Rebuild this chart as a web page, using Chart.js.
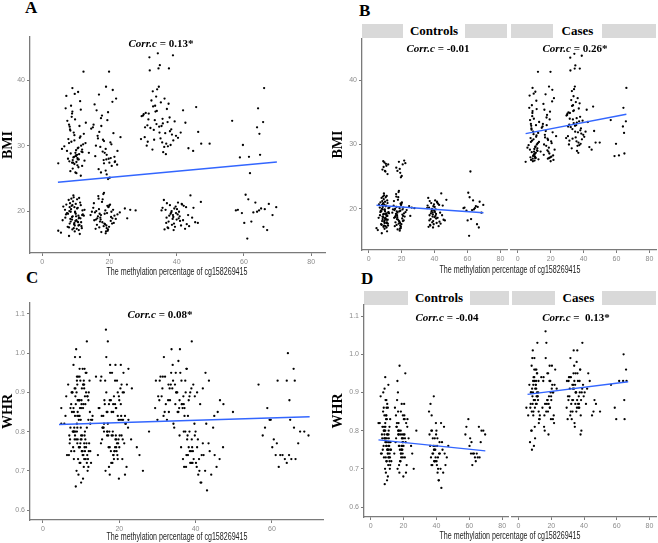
<!DOCTYPE html>
<html>
<head>
<meta charset="utf-8">
<script src="https://cdn.jsdelivr.net/npm/chart.js@4.4.1/dist/chart.umd.min.js"></script>
<style>
    body { margin: 0; width: 658px; height: 543px; background: #fff; position: relative; overflow: hidden; font-family: "Liberation Sans", Arial, sans-serif; }
    canvas { position: absolute; }
    .letra { position: absolute; font: bold 17px "Liberation Serif", serif; line-height: 17px; }
    .strip { position: absolute; height: 14px; background: #d9d9d9; }
    .strip span { position: absolute; top: 0; height: 14px; background: #fff; text-align: center; font: bold 13px "Liberation Serif", serif; line-height: 14px; }
    .corr { position: absolute; width: 140px; text-align: center; font: bold 11px "Liberation Serif", serif; line-height: 14px; white-space: nowrap; }
    .xtitle { position: absolute; width: 300px; text-align: center; font-size: 10px; line-height: 12px; color: #222; white-space: nowrap; transform: scaleX(0.71); }
</style>
</head>
<body>
<div class="letra" style="left:25px;top:-1px">A</div>
<div class="letra" style="left:359px;top:2px">B</div>
<div class="letra" style="left:26px;top:269px">C</div>
<div class="letra" style="left:361px;top:270px">D</div>

<div class="strip" style="left:362px;top:24px;width:145px"><span style="left:41px;width:62px">Controls</span></div>
<div class="strip" style="left:511px;top:24px;width:145px"><span style="left:42px;width:49px">Cases</span></div>
<div class="strip" style="left:364px;top:291px;width:145px"><span style="left:44px;width:62px">Controls</span></div>
<div class="strip" style="left:512px;top:291px;width:144px"><span style="left:43px;width:47px">Cases</span></div>

<canvas id="painelA" width="330" height="250" style="left:0;top:30px"></canvas>
<canvas id="painelBControles" width="180" height="250" style="left:330px;top:30px"></canvas>
<canvas id="painelBCasos" width="148" height="250" style="left:510px;top:30px"></canvas>
<canvas id="painelC" width="330" height="248" style="left:0;top:295px"></canvas>
<canvas id="painelDControles" width="180" height="248" style="left:330px;top:295px"></canvas>
<canvas id="painelDCasos" width="148" height="248" style="left:510px;top:295px"></canvas>

<div class="corr" style="left:91px;top:36px"><i>Corr.c</i> = 0.13*</div>
<div class="corr" style="left:368px;top:41px"><i>Corr.c</i> = -0.01</div>
<div class="corr" style="left:505px;top:41px"><i>Corr.c</i> = 0.26*</div>
<div class="corr" style="left:90px;top:307px"><i>Corr.c</i> = 0.08*</div>
<div class="corr" style="left:377px;top:310px"><i>Corr.c</i> = -0.04</div>
<div class="corr" style="left:506px;top:310px"><i>Corr.c</i> =&nbsp; 0.13*</div>

<div class="xtitle" style="left:27px;top:266px">The methylation percentage of cg158269415</div>
<div class="xtitle" style="left:360px;top:264px">The methylation percentage of cg158269415</div>
<div class="xtitle" style="left:27px;top:531px">The methylation percentage of cg158269415</div>
<div class="xtitle" style="left:360px;top:530px">The methylation percentage of cg158269415</div>

<script>
// Dados: um valor por indivíduo (metilação %, IMC, RCQ)
const controlsMeth = [
    9.1, 10.4, 8.2, 11.3, 9.8, 7.6, 10.9, 8.8, 12.1, 9.4,
    10.2, 8.5, 11.8, 9.6, 7.9, 10.7, 8.9, 11.1, 6.8, 9.3,
    10.0, 8.4, 11.5, 9.0, 12.4, 7.2, 10.5, 9.7, 8.1, 11.0,
    9.5, 6.3, 10.8, 8.7, 11.9, 9.9, 7.4, 10.3, 8.6, 5.6,
    11.4, 9.2, 10.1, 8.0, 12.0, 9.6, 7.7, 10.6, 8.3, 11.7,
    9.0, 10.9, 6.9, 8.9, 11.2, 9.8, 4.8, 10.4, 8.5, 12.6,
    9.4, 7.1, 11.6, 10.0, 8.2, 9.7, 10.8, 6.1, 11.0, 8.0,
    8.4, 9.6, 10.8, 11.5, 9.1, 10.2, 8.9, 11.9, 9.9, 10.5,
    16.8, 18.4, 19.2, 20.7, 17.5, 21.6, 18.9, 20.1, 22.3, 19.6,
    17.2, 18.6, 15.9, 19.8, 16.4, 20.5, 17.8, 19.1, 14.8, 18.2,
    21.3, 16.9, 19.5, 17.5, 20.2, 15.5, 18.9, 16.1, 21.9, 17.0,
    19.3, 18.0, 20.8, 16.6, 15.2, 19.9, 17.4, 18.4, 22.4, 16.3,
    20.0, 17.9, 19.0, 15.7, 18.7, 21.1, 16.8, 19.6, 17.3, 20.4,
    18.3, 14.4, 19.7, 16.0, 21.5, 17.6, 18.8, 20.9, 15.4, 19.2,
    17.1, 23.1, 24.6, 26.2, 27.8, 25.3, 18.5, 20.6, 16.7, 19.4,
    38.2, 40.1, 36.9, 41.6, 39.0, 37.5, 42.8, 38.8, 40.7, 35.8,
    39.5, 43.4, 37.1, 41.0, 38.5, 44.6, 36.4, 40.4, 39.2, 42.1,
    37.8, 41.3, 38.0, 45.5, 39.8, 36.2, 43.0, 40.9, 37.3, 47.2,
    39.3, 41.9, 38.6, 35.5, 40.3, 44.1, 37.6, 42.5, 39.7, 46.3,
    38.4, 40.6, 36.7, 43.7, 41.5, 39.1, 37.0, 45.0, 40.0, 38.9,
    60.5, 62.8, 65.1, 58.2, 67.4, 61.3, 63.9, 69.6, 59.4, 64.5,
    61.8, 66.2, 60.1, 68.5, 62.2, 57.6, 65.8, 63.4, 61.0, 66.9
];
const controlsBmi = [
    19.2, 20.4, 18.1, 21.3, 19.8, 17.6, 18.9, 20.8, 19.5, 22.1,
    18.6, 19.9, 17.4, 20.6, 21.7, 18.3, 19.1, 17.9, 20.2, 22.4,
    19.6, 18.8, 20.9, 17.2, 19.3, 21.0, 18.4, 16.9, 20.0, 19.0,
    18.0, 20.7, 17.8, 21.9, 19.4, 18.5, 19.7, 17.3, 20.3, 16.7,
    18.9, 21.5, 19.2, 17.5, 20.1, 18.2, 19.6, 20.5, 21.2, 17.7,
    20.9, 17.1, 19.0, 18.7, 16.5, 19.9, 17.0, 21.8, 18.4, 20.2,
    17.4, 19.5, 18.3, 21.1, 20.6, 17.8, 19.3, 18.6, 22.0, 16.2,
    26.1, 27.2, 26.7, 25.4, 26.5, 25.8, 27.4, 26.9, 25.9, 27.0,
    26.4, 27.3, 25.6, 26.9, 25.9, 27.5, 26.2, 25.1, 27.1, 24.9,
    18.4, 19.6, 17.3, 20.7, 18.9, 19.1, 21.4, 17.8, 19.9, 22.6,
    18.2, 20.3, 17.0, 19.4, 21.0, 18.6, 16.6, 20.0, 18.8, 17.5,
    19.7, 21.8, 18.1, 19.2, 20.5, 17.6, 18.7, 22.8, 19.5, 17.9,
    20.9, 18.3, 16.9, 19.8, 18.0, 20.2, 21.9, 17.2, 19.0, 18.5,
    17.7, 19.4, 20.6, 18.7, 19.3, 16.8, 20.1, 18.9, 21.2, 17.4,
    19.6, 19.8, 20.4, 20.2, 20.1, 18.9, 18.1, 19.9, 22.3, 20.8,
    19.6, 20.3, 18.2, 21.0, 19.1, 17.4, 20.6, 18.8, 19.9, 20.5,
    17.6, 19.4, 21.2, 18.5, 20.0, 19.0, 17.2, 21.3, 18.1, 20.8,
    19.3, 17.8, 20.9, 18.3, 19.7, 21.7, 18.0, 19.2, 17.5, 21.4,
    20.4, 18.6, 17.9, 20.1, 19.5, 22.4, 18.4, 17.3, 20.7, 18.2,
    19.8, 18.9, 20.2, 17.7, 21.1, 17.1, 19.0, 20.5, 18.7, 19.4,
    22.5, 19.8, 20.4, 20.2, 21.1, 21.8, 19.9, 20.6, 19.7, 20.1,
    25.8, 20.3, 18.2, 19.4, 18.4, 20.1, 17.6, 21.3, 15.8, 17.1
];
const controlsWhr = [
    .78, .74, .81, .76, .72, .85, .79, .70, .77, .83,
    .75, .80, .73, .88, .76, .71, .82, .78, .74, .69,
    .79, .84, .72, .77, .75, .81, .68, .86, .73, .80,
    .76, .74, .92, .78, .71, .83, .75, .79, .66, .82,
    .77, .73, .87, .80, .75, .72, .90, .74, .78, .70,
    .81, .76, .79, .94, .73, .77, .82, .75, .91, .72,
    .84, .78, .74, .67, .80, .76, .73, .89, .75, .86,
    .79, .84, .77, .81, .88, .75, .80, .83, .78, .86,
    .80, .85, .78, .83, .76, .82, .87, .79, .81, .84,
    .76, .73, .81, .78, .70, .84, .75, .79, .86, .72,
    .77, .80, .74, .69, .83, .78, .76, .88, .71, .82,
    .75, .79, .73, .90, .77, .68, .80, .74, .83, .93,
    .76, .72, .78, .81, .75, .95, .79, .73, .71, .87,
    .80, .74, .77, .82, .69, .97, .75, .78, .84, .76,
    .79, .78, .76, .70, .80, .74, .74, .79, .85, .77,
    .76, .72, .80, .74, .78, .71, .82, .75, .69, .79,
    .73, .77, .84, .70, .75, .81, .87, .76, .72, .74,
    .78, .67, .74, .71, .79, .76, .65, .73, .80, .76,
    .75, .77, .72, .85, .71, .69, .74, .70, .82, .73,
    .89, .78, .73, .75, .67, .76, .71, .74, .80, .72,
    .78, .74, .73, .81, .80, .77, .72, .79, .83, .74,
    .71, .73, .76, .80, .74, .79, .81, .73, .74, .77
];

const casesMeth = [
    9.3, 10.6, 8.1, 11.4, 7.5, 9.9, 12.2, 8.6, 10.9, 9.0,
    11.7, 8.3, 10.1, 7.2, 9.6, 12.6, 8.8, 10.4, 11.1, 6.6,
    9.1, 7.8, 10.7, 8.5, 11.9, 9.4, 10.2, 5.9, 8.0, 11.3,
    10.0, 8.9, 12.4, 9.7, 7.4, 10.5, 8.2, 11.6, 9.2, 13.0,
    10.8, 7.0, 9.5, 11.2, 8.7, 12.3, 12.0, 9.8, 4.8, 11.0,
    8.4, 10.6, 9.0, 12.9, 7.7, 11.5, 9.6, 10.1, 13.9, 8.0,
    17.3, 19.4, 15.8, 20.9, 18.1, 16.5, 21.7, 19.0, 14.6, 18.6,
    20.3, 16.9, 22.4, 17.8, 19.8, 15.3, 21.2, 18.3, 16.2, 20.6,
    19.2, 17.0, 19.9, 18.9, 15.6, 20.0, 17.6, 21.5, 16.6, 19.6,
    18.0, 22.0, 16.0, 20.4, 17.5, 23.3, 19.1, 15.1, 21.0, 18.4,
    33.2, 35.8, 31.4, 37.1, 34.0, 38.6, 32.5, 36.3, 30.2, 34.8,
    36.9, 33.7, 39.4, 31.9, 35.2, 37.6, 32.8, 34.4, 29.6, 38.0,
    35.5, 31.1, 33.9, 36.6, 30.8, 37.9, 34.6, 32.2, 39.0, 35.0,
    33.0, 37.3, 30.5, 36.0, 34.2, 38.9, 31.7, 35.7, 33.5, 39.8,
    32.0, 36.4, 34.9, 30.0, 37.7, 33.3, 35.3, 31.3, 38.4, 34.1,
    36.8, 32.9, 29.4, 35.9, 31.6, 37.4, 33.6, 34.7, 30.6, 38.2,
    41.2, 43.5, 45.8, 40.4, 47.3, 42.6, 44.9, 49.8, 41.9, 46.4,
    66.0, 64.2, 65.7, 63.9, 64.6, 59.7, 58.8, 61.5, 64.8, 56.5
];
const casesBmi = [
    28.2, 29.6, 27.6, 31.4, 33.8, 28.9, 30.2, 36.1, 27.9, 35.2,
    29.1, 32.5, 28.4, 37.6, 30.8, 27.7, 34.4, 28.6, 33.0, 29.9,
    27.8, 31.0, 38.2, 28.8, 29.4, 32.0, 27.5, 29.5, 30.4, 36.8,
    28.5, 34.9, 31.8, 37.9, 29.2, 28.1, 32.9, 30.0, 27.4, 33.5,
    29.7, 35.7, 28.3, 31.2, 30.6, 41.3, 29.0, 34.0, 27.3, 28.7,
    32.3, 27.9, 38.8, 30.4, 28.0, 35.5, 31.6, 29.3, 28.9, 33.2,
    29.8, 33.9, 28.4, 36.7, 30.9, 31.5, 27.6, 39.0, 32.6, 28.9,
    30.5, 37.8, 29.2, 34.6, 28.0, 33.2, 31.9, 27.8, 35.4, 30.2,
    28.6, 32.1, 41.3, 29.5, 36.3, 27.4, 33.0, 28.3, 31.1, 35.1,
    29.1, 37.2, 30.0, 28.1, 34.2, 31.3, 27.9, 32.8, 38.5, 30.7,
    32.4, 34.1, 30.6, 35.6, 33.3, 31.7, 36.9, 29.8, 34.8, 32.9,
    30.3, 35.2, 33.7, 43.5, 31.1, 36.4, 29.4, 44.1, 34.5, 32.2,
    33.0, 30.0, 37.5, 31.9, 35.0, 34.3, 41.8, 32.7, 30.8, 42.3,
    36.0, 33.6, 31.3, 29.0, 38.6, 43.8, 34.9, 30.5, 33.9, 31.5,
    41.5, 37.2, 32.0, 34.6, 41.8, 30.9, 36.6, 33.1, 32.5, 35.3,
    28.7, 38.3, 31.0, 33.4, 34.0, 29.9, 36.1, 39.0, 32.8, 30.1,
    32.0, 29.6, 35.9, 31.2, 30.3, 33.5, 29.2, 30.3, 35.4, 32.1,
    38.8, 35.7, 33.6, 32.8, 31.8, 30.1, 28.2, 28.3, 28.6, 33.8
];
const casesWhr = [
    .88, .92, .85, .95, .90, .81, .93, .87, .96, .84,
    .89, .91, .78, .86, .94, .83, .90, .96, .87, .92,
    .85, .80, .93, .89, .88, .76, .91, .84, .97, .90,
    .86, .93, .82, .99, .87, .92, .75, .89, .94, .84,
    .91, .77, .88, .95, 1.01, .85, .90, .93, .86, .89,
    .99, .87, .92, .83, .90, 1.03, .96, .88, .94, .80,
    .87, .93, .84, .90, .95, 1.06, .82, .97, .86, .89,
    .91, .85, .96, .88, .83, .94, .90, .79, .87, .92,
    .86, 1.03, .89, .93, .81, .88, .95, .84, .99, .90,
    .85, .92, .80, .97, .88, .91, .86, .93, .83, .87,
    .91, .88, .94, .86, .97, .90, .83, .93, .89, .95,
    .87, 1.01, .92, .85, .90, .96, .88, .81, .93, .84,
    .98, .89, .91, .86, .94, .79, .92, .87, 1.03, .90,
    .85, .93, .88, .95, .82, .91, .99, .86, .92, .89,
    .94, .87, .90, .83, .96, .88, .85, .91, .80, .93,
    .89, .92, .86, 1.01, .84, .90, .95, .87, .93, .88,
    .87, .93, .85, .90, .87, .95, .84, .85, .91, .88,
    .93, 1.00, .96, .93, .88, .83, .86, .93, .83, .92
];

// Extremos das retas de regressão
const fitA = [[4.7, 24.4], [69.8, 27.5]];
const fitBControls = [[4.8, 20.55], [69.7, 19.4]];
const fitBCases = [[4.8, 31.7], [66.0, 34.7]];
const fitC = [[4.2, 0.818], [69.9, 0.838]];
const fitDControls = [[4.8, 0.776], [69.7, 0.747]];
const fitDCases = [[5.5, 0.895], [67.0, 0.928]];

// Marcas dos eixos
const methTicks = [0, 20, 40, 60, 80];
const methTicksC = [0, 20, 40, 60];
const bmiTicks = [20, 30, 40];
const whrTicks = [0.6, 0.7, 0.8, 0.9, 1.0, 1.1];

const cinzaEixo = '#7a7a7a';
const cinzaTexto = '#8c8c8c';

function pontos(xs, ys) {
    return xs.map((x, i) => ({ x: x, y: ys[i] }));
}

function eixo(cfg) {
    return {
        type: 'linear',
        display: cfg.display !== false,
        min: cfg.min,
        max: cfg.max,
        afterBuildTicks: function(scale) {
            scale.ticks = cfg.ticks.map(v => ({ value: v }));
        },
        afterFit: function(scale) {
            if (cfg.width !== undefined) scale.width = cfg.width;
            if (cfg.height !== undefined) scale.height = cfg.height;
        },
        grid: { drawOnChartArea: false, drawTicks: true, tickLength: 3, color: cinzaEixo, lineWidth: 1 },
        border: { display: true, color: cinzaEixo, width: 1.3 },
        ticks: {
            color: cinzaTexto,
            padding: 2,
            font: { family: 'Liberation Sans', size: 7 },
            callback: cfg.format || (v => v)
        },
        title: cfg.title ? {
            display: true,
            text: cfg.title,
            color: '#000',
            padding: 0,
            font: { family: 'Liberation Serif', size: 14, weight: 'bold' }
        } : { display: false }
    };
}

function criarPainel(id, cfg) {
    const ctx = document.getElementById(id);
    return new Chart(ctx, {
        type: 'scatter',
        data: {
            datasets: [{
                // reta primeiro para ficar por cima dos pontos
                data: cfg.fit.map(([x, y]) => ({ x: x, y: y })),
                showLine: true,
                borderColor: '#3366ff',
                borderWidth: 1.4,
                pointRadius: 0,
                fill: false
            }, {
                data: cfg.pontos,
                backgroundColor: '#000',
                borderWidth: 0,
                pointRadius: 1.15,
                pointHoverRadius: 1.15
            }]
        },
        options: {
            responsive: false,
            animation: false,
            devicePixelRatio: 1,
            layout: { padding: cfg.padding },
            plugins: { legend: { display: false }, tooltip: { enabled: false } },
            scales: { x: cfg.x, y: cfg.y }
        }
    });
}

const fmtWhr = v => v.toFixed(1);
const allMeth = controlsMeth.concat(casesMeth);

// A: IMC x metilação, todos
criarPainel('painelA', {
    pontos: pontos(allMeth, controlsBmi.concat(casesBmi)),
    fit: fitA,
    padding: { top: 7, right: 5, left: 0, bottom: 0 },
    x: eixo({ min: -3.6, max: 84.1, ticks: methTicks, height: 27 }),
    y: eixo({ min: 13.6, max: 46.6, ticks: bmiTicks, width: 30, title: 'BMI' })
});

// B: controles / casos
criarPainel('painelBControles', {
    pontos: pontos(controlsMeth, controlsBmi),
    fit: fitBControls,
    padding: { top: 9, right: 3, left: 0, bottom: 0 },
    x: eixo({ min: -4, max: 84, ticks: methTicks, height: 30 }),
    y: eixo({ min: 13.6, max: 46.4, ticks: bmiTicks, width: 32, title: 'BMI' })
});
criarPainel('painelBCasos', {
    pontos: pontos(casesMeth, casesBmi),
    fit: fitBCases,
    padding: { top: 9, right: 2, left: 1, bottom: 0 },
    x: eixo({ min: -4, max: 84, ticks: methTicks, height: 30 }),
    y: eixo({ min: 13.6, max: 46.4, ticks: bmiTicks, display: false })
});

// C: RCQ x metilação, todos
criarPainel('painelC', {
    pontos: pontos(allMeth, controlsWhr.concat(casesWhr)),
    fit: fitC,
    padding: { top: 8, right: 7, left: 0, bottom: 0 },
    x: eixo({ min: -3.4, max: 73.4, ticks: methTicksC, height: 23 }),
    y: eixo({ min: 0.5745, max: 1.128, ticks: whrTicks, width: 30, title: 'WHR', format: fmtWhr })
});

// D: controles / casos
criarPainel('painelDControles', {
    pontos: pontos(controlsMeth, controlsWhr),
    fit: fitDControls,
    padding: { top: 10, right: 1, left: 0, bottom: 0 },
    x: eixo({ min: -4, max: 84, ticks: methTicks, height: 26 }),
    y: eixo({ min: 0.574, max: 1.129, ticks: whrTicks, width: 34, title: 'WHR', format: fmtWhr })
});
criarPainel('painelDCasos', {
    pontos: pontos(casesMeth, casesWhr),
    fit: fitDCases,
    padding: { top: 10, right: 2, left: 2, bottom: 0 },
    x: eixo({ min: -4, max: 84, ticks: methTicks, height: 26 }),
    y: eixo({ min: 0.574, max: 1.129, ticks: whrTicks, display: false, format: fmtWhr })
});
</script>
</body>
</html>
